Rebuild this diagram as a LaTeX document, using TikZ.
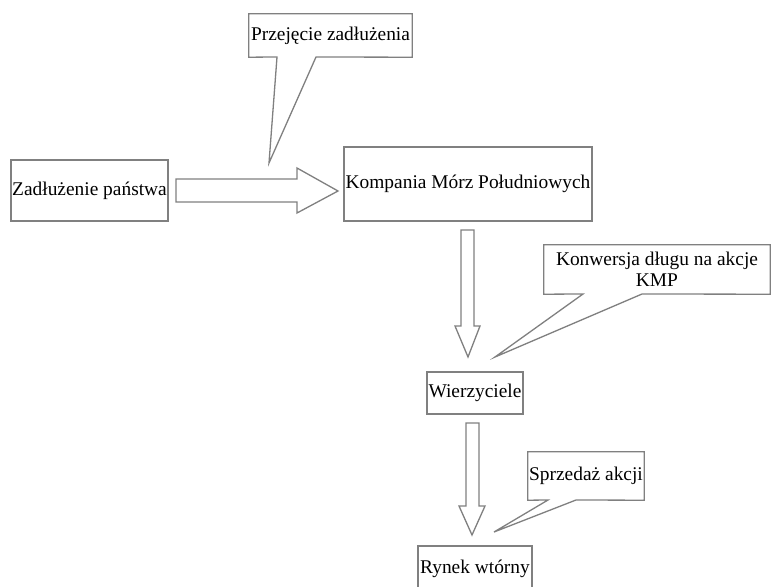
\documentclass[tikz,border=0pt]{standalone}
\usepackage{fontspec}
\setmainfont{Liberation Serif}
\definecolor{lc}{RGB}{128,128,128}
\tikzset{
  lbl/.style={font=\fontsize{19.4}{21}\selectfont, inner sep=0pt, align=center},
  box/.style={lbl, draw=lc, line width=1.3pt},
  cbox/.style={lbl},
  outl/.style={draw=lc, line width=1.3pt, line join=miter},
}
\begin{document}
\begin{tikzpicture}[x=1pt,y=-1pt]
\clip (0,0) rectangle (773,586);
\fill[white] (0,0) rectangle (773,586);
% boxes
\node[box, minimum width=157pt, minimum height=61pt] (zad) at (89.5,190.5) {Zadłużenie państwa};
\node[box, minimum width=248pt, minimum height=74pt] (kmp) at (468,184) {Kompania Mórz Południowych};
\node[box, minimum width=96pt, minimum height=42pt] (wie) at (475,393) {Wierzyciele};
\node[box, minimum width=114pt, minimum height=46pt] (ryn) at (475,569) {Rynek wtórny};
% block arrows
\draw[outl] (176,179) -- (297,179) -- (297,168) -- (338,191) -- (297,213) -- (297,202) -- (176,202) -- cycle;
\draw[outl] (461,230) -- (474,230) -- (474,326) -- (480,326) -- (468,357) -- (455,326) -- (461,326) -- cycle;
\draw[outl] (466,423) -- (479,423) -- (479,506) -- (485,506) -- (472,535) -- (459,506) -- (466,506) -- cycle;
% callouts
\node[cbox, minimum width=163pt, minimum height=43pt] (prz) at (330.5,35.5) {Przejęcie zadłużenia};
\coordinate (prztip) at (269,163);
\draw[outl] (prz.north west) -- (prz.north east) -- (prz.south east) -- (316,57) -- (prztip) -- (277,57) -- (prz.south west) -- cycle;
\node[cbox, minimum width=226pt, minimum height=49pt] (kon) at (657,269.5) {Konwersja długu na akcje\\KMP};
\coordinate (kontip) at (495,357);
\draw[outl] (kon.north west) -- (kon.north east) -- (kon.south east) -- (642,294) -- (kontip) -- (583,294) -- (kon.south west) -- cycle;
\node[cbox, minimum width=116pt, minimum height=48pt] (spr) at (586,476) {Sprzedaż akcji};
\coordinate (sprtip) at (494,532);
\draw[outl] (spr.north west) -- (spr.north east) -- (spr.south east) -- (576,500) -- (sprtip) -- (548,500) -- (spr.south west) -- cycle;
\end{tikzpicture}
\end{document}
